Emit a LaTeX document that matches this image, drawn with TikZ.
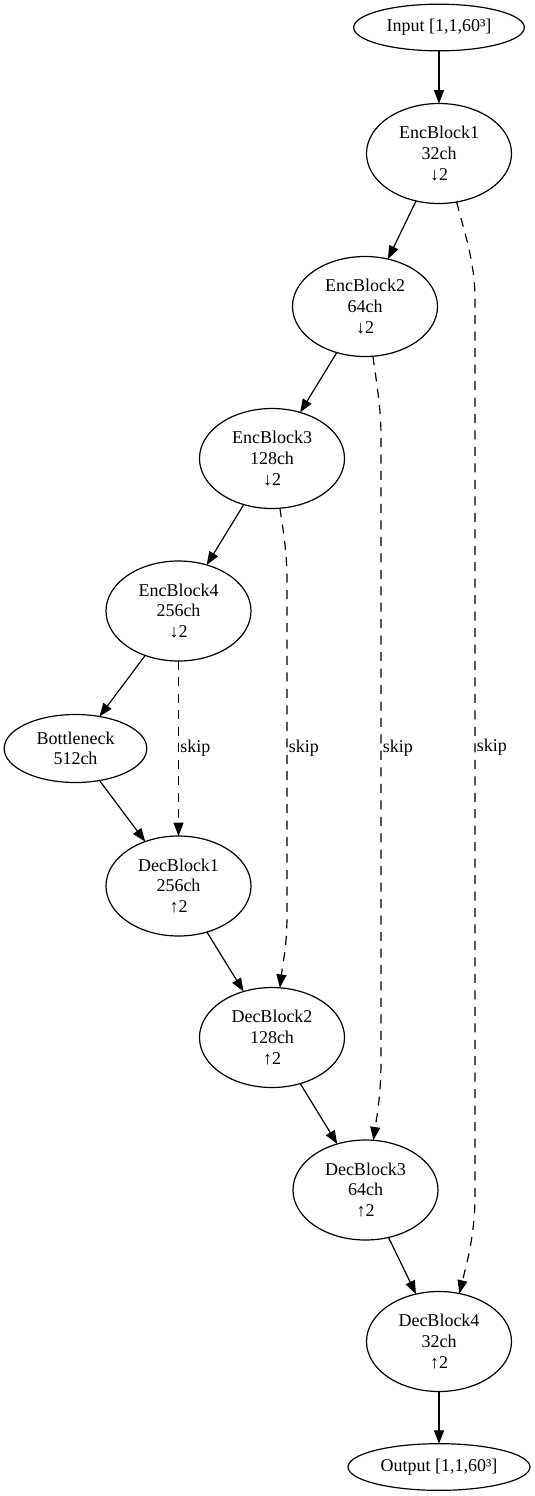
\documentclass[tikz,border=0pt]{standalone}
\usepackage{fontspec}
\setmainfont{Liberation Serif}
\usetikzlibrary{arrows.meta,shapes.geometric}
\begin{document}
\begin{tikzpicture}[x=0.75pt,y=-0.75pt,
  every node/.style={font=\fontsize{13.5}{15.4}\selectfont},
  blk/.style={draw,ellipse,line width=0.9pt,inner sep=0pt,outer sep=0pt,align=center,minimum width=108.75pt,minimum height=75pt},
  io/.style={draw,ellipse,line width=0.9pt,inner sep=0pt,outer sep=0pt,align=center,minimum height=35pt},
  flow/.style={line width=0.9pt,-{Triangle[length=10pt,width=7.5pt]}},
  skipline/.style={flow,dash pattern=on 6.75pt off 5.6pt},
  skiplab/.style={anchor=west,inner sep=1pt}]
\useasboundingbox (0,0) rectangle (535,1496);
\node[io,minimum width=128pt] (in) at (439,27.5) {Input [1,1,60³]};
\node[blk] (e1) at (439,153.5) {EncBlock1\\32ch\\↓2};
\node[blk] (e2) at (365,306.5) {EncBlock2\\64ch\\↓2};
\node[blk] (e3) at (272,458.5) {EncBlock3\\128ch\\↓2};
\node[blk] (e4) at (178.5,611) {EncBlock4\\256ch\\↓2};
\node[blk,minimum width=107pt,minimum height=51pt] (bn) at (75.5,748.5) {Bottleneck\\512ch};
\node[blk] (d1) at (178.5,886) {DecBlock1\\256ch\\↑2};
\node[blk] (d2) at (272,1037.5) {DecBlock2\\128ch\\↑2};
\node[blk] (d3) at (365.5,1190) {DecBlock3\\64ch\\↑2};
\node[blk] (d4) at (439,1341.5) {DecBlock4\\32ch\\↑2};
\node[io,minimum width=136.5pt] (out) at (439,1467) {Output [1,1,60³]};
\draw[flow] (in) -- (e1);
\draw[flow] (e1) -- (e2);
\draw[flow] (e2) -- (e3);
\draw[flow] (e3) -- (e4);
\draw[flow] (e4) -- (bn);
\draw[flow] (bn) -- (d1);
\draw[flow] (d1) -- (d2);
\draw[flow] (d2) -- (d3);
\draw[flow] (d3) -- (d4);
\draw[flow] (d4) -- (out);
\draw[skipline] (e1.-70) .. controls (465,235) and (475,262) .. (475,300)
  -- node[skiplab] (s1) {skip} (475,1195)
  .. controls (475,1235) and (467,1262) .. (d4.67);
\draw[skipline] (e2.-81) .. controls (377,385) and (381,410) .. (381,436)
  -- node[skiplab] (s2) {skip} (381,1060)
  .. controls (381,1095) and (377,1115) .. (d3.81);
\draw[skipline] (e3.-81) .. controls (284,535) and (287,555) .. (287,580)
  -- node[skiplab] (s3) {skip} (287,916)
  .. controls (287,945) and (283,962) .. (d2.81);
\draw[skipline] (e4) -- node[skiplab] (s4) {skip} (d1);
\end{tikzpicture}
\end{document}
